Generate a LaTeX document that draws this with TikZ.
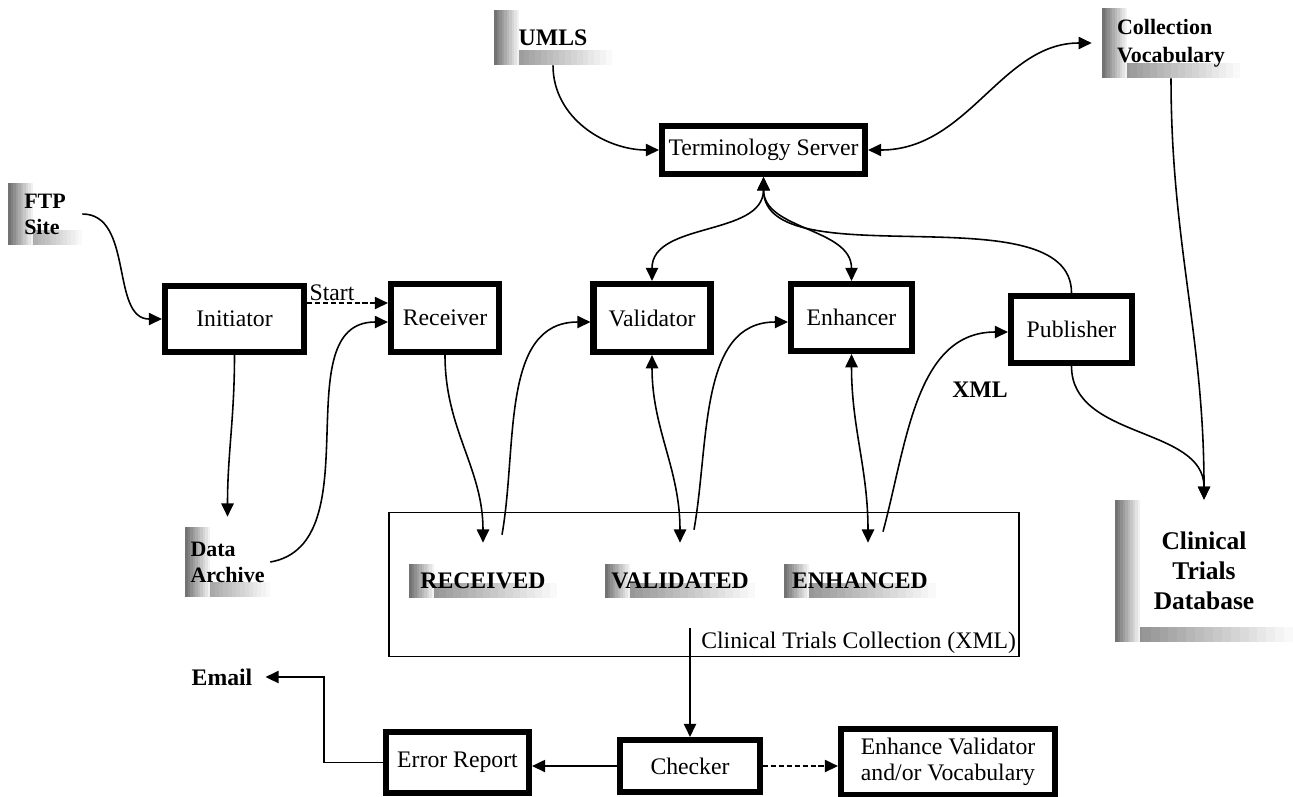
\documentclass[tikz,border=0pt]{standalone}
\usepackage{fontspec}
\setmainfont{Liberation Serif}
\usetikzlibrary{arrows.meta,positioning,calc}

\newcommand\diagfont{\fontsize{13.5}{14.8}\selectfont}
\newcommand\srcfont{\bfseries\fontsize{12.5}{14.8}\selectfont}

\tikzset{
  module/.style={draw,line width=3.5pt,align=center,font=\diagfont},
  store/.style={font=\diagfont\bfseries,inner sep=2pt,
    path picture={
      % fading bottom band
      \foreach \i [evaluate=\i as \a using \i/20,
                   evaluate=\i as \b using (\i+1)/20,
                   evaluate=\i as \g using 48-2.4*\i] in {0,...,19}
        \fill[black!\g]
          ($(path picture bounding box.south west)!\a!(path picture bounding box.south east)$) rectangle
          ($(path picture bounding box.south west)!\b!(path picture bounding box.south east)+(0,0.3cm)$);
      % fading left band
      \foreach \i [evaluate=\i as \g using 55-5.5*\i] in {0,...,9}
        \fill[black!\g]
          ([xshift=\i*0.05cm]path picture bounding box.south west) rectangle
          ([xshift=\i*0.05cm+0.05cm]path picture bounding box.north west);
    }},
  flow/.style={-{Triangle[length=7.5pt,width=7pt]},line width=0.9pt},
  twoway/.style={{Triangle[length=7.5pt,width=7pt]}-{Triangle[length=7.5pt,width=7pt]},line width=0.9pt},
  signal/.style={flow,dash pattern=on 3pt off 1.5pt},
}

\begin{document}
\begin{tikzpicture}[x=0.02cm,y=-0.02cm,font=\diagfont]
        \useasboundingbox (0,0) rectangle (1293,796);

        % Processing modules
        \node[module,minimum width=4.06cm,minimum height=0.96cm] (tserver) at (763.5,150) {Terminology Server};
        \node[module,minimum width=2.78cm,minimum height=1.32cm] (initiator) at (234.5,319) {Initiator};
        \node[module,minimum width=2.16cm,minimum height=1.36cm] (receiver) at (445,318) {Receiver};
        \node[module,minimum width=2.34cm,minimum height=1.36cm] (validator) at (652,318) {Validator};
        \node[module,minimum width=2.42cm,minimum height=1.34cm] (enhancer) at (851.5,317.5) {Enhancer};
        \node[module,minimum width=2.42cm,minimum height=1.34cm] (publisher) at (1071.5,329.5) {Publisher};

        % Bottom row modules
        \node[module,minimum width=2.86cm,minimum height=1.22cm] (errorrep) at (457.5,762.5) {Error Report};
        \node[module,minimum width=2.80cm,minimum height=1.04cm] (checker) at (690,766) {Checker};
        \node[module,minimum width=4.28cm,minimum height=1.32cm] (enhance) at (948,762) {Enhance Validator\\and/or Vocabulary};

        % Collection and its stores
        \node[draw,line width=1pt,minimum width=12.6cm,minimum height=2.88cm] (collection) at (704,584.5) {};
        \node[anchor=south east,inner sep=2pt] (coltitle) at (collection.south east) {Clinical Trials Collection (XML)};
        \node[store,minimum width=2.96cm,minimum height=0.68cm] (received) at (483,581) {RECEIVED};
        \node[store,minimum width=3.0cm,minimum height=0.68cm] (validated) at (680,581) {VALIDATED};
        \node[store,minimum width=3.04cm,minimum height=0.68cm] (enhanced) at (860,581) {ENHANCED};

        % Outside stores
        \node[store,minimum width=2.36cm,minimum height=1.1cm] (umls) at (553,37.5) {UMLS};
        \node[store,font=\srcfont,align=left,minimum width=1.48cm,minimum height=1.24cm] (ftp) at (45,214) {FTP\\Site};
        \node[store,font=\srcfont,align=left,minimum width=1.7cm,minimum height=1.4cm] (archive) at (227.5,562) {Data\\Archive};
        \node[store,font=\bfseries\fontsize{12.5}{16}\selectfont,align=left,minimum width=2.76cm,minimum height=1.4cm] (vocab) at (1171,43) {Collection\\Vocabulary};
        \node[store,font=\bfseries\fontsize{14.5}{17}\selectfont,align=center,minimum width=3.56cm,minimum height=2.84cm] (database) at (1204,571) {Clinical\\Trials\\Database};

        % Plain labels
        \node[font=\diagfont\bfseries] (email) at (222,677) {Email};
        \node[font=\diagfont\bfseries] (xml) at (980,390) {XML};

        % Arcs around the terminology server
        \draw[flow] (umls.south) to[out=-90,in=180] (tserver.west);
        \draw[twoway,shorten >=0.2cm] (tserver.east) to[out=0,in=180] (vocab.west);
        \draw[twoway] (tserver.south) to[out=-90,in=90] (validator.north);
        \draw[twoway] (tserver.south) to[out=-90,in=90] (enhancer.north);
        \draw[flow] (publisher.north) to[out=90,in=-90,looseness=0.8] (tserver.south);

        % Arcs of the loading chain
        \draw[flow] (ftp.east) to[out=0,in=180] (initiator.west);
        \draw[signal] ([yshift=0.32cm]initiator.east) -- ([yshift=0.32cm]initiator.east -| receiver.west)
            node[pos=0,above right,inner sep=1pt] {Start};
        \draw[flow] (initiator.south) to[out=-90,in=90] ([yshift=0.2cm]archive.north);
        \draw[flow] (archive.east) to[out=10,in=180] ([yshift=-0.08cm]receiver.west);

        % Arcs to/from the collection
        \draw[flow] (receiver.south) to[out=-90,in=90] ([yshift=0.42cm]received.north);
        \draw[flow] ([xshift=0.38cm,yshift=0.58cm]received.north) to[out=80,in=180] ([yshift=-0.08cm]validator.west);
        \draw[twoway] (validator.south) to[out=-90,in=90] ([yshift=0.42cm]validated.north);
        \draw[flow] ([xshift=0.28cm,yshift=0.68cm]validated.north) to[out=80,in=180] ([yshift=-0.09cm]enhancer.west);
        \draw[twoway] (enhancer.south) to[out=-90,in=90] ([xshift=0.16cm,yshift=0.42cm]enhanced.north);
        \draw[flow] ([xshift=0.46cm,yshift=0.64cm]enhanced.north) to[out=75,in=180] ([yshift=-0.05cm]publisher.west);

        % Arcs to the database
        \draw[flow] (vocab.south) to[out=-90,in=90] (database.north);
        \draw[flow] (publisher.south) to[out=-90,in=90] (database.north);

        % Checking
        \draw[flow] (coltitle.north west -| checker.north) -- (checker.north);
        \draw[flow] (checker.west) -- (checker.west -| errorrep.east);
        \draw[signal] (checker.east) -- (checker.east -| enhance.west);
        \draw[flow,shorten >=0.14cm] (errorrep.west) -- ++(-59,0) |- (email.east);
\end{tikzpicture}
\end{document}
